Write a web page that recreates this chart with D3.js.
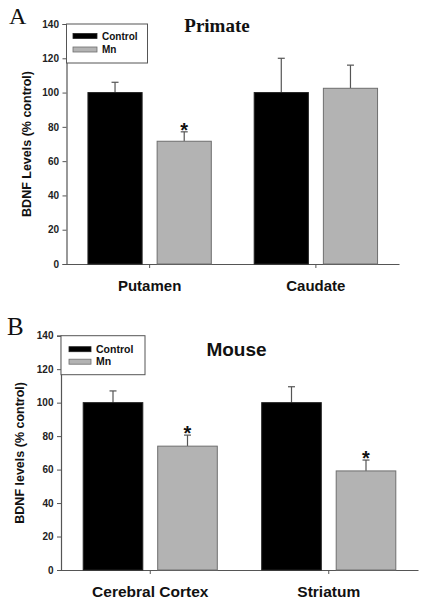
<!DOCTYPE html>
<html><head><meta charset="utf-8">
<script src="https://cdn.jsdelivr.net/npm/d3@7"></script>
<style>body{margin:0;background:#fff}svg{display:block}</style>
</head><body>
<svg id="c" width="425" height="600"></svg>
<script>
const seriesNames = ["Control", "Mn"];
const yTicks = [0, 20, 40, 60, 80, 100, 120, 140];

const primateCategories = ["Putamen", "Caudate"];
const primateControl = [100, 100];
const primateControlErr = [6, 20];
const primateMn = [71.6, 102.5];
const primateMnErr = [5.5, 13.5];
const primateSig = [false, true, false, false]; // per bar: [cat0 ctrl, cat0 Mn, cat1 ctrl, cat1 Mn]

const mouseCategories = ["Cerebral Cortex", "Striatum"];
const mouseControl = [100, 100];
const mouseControlErr = [7, 9.5];
const mouseMn = [74, 59.2];
const mouseMnErr = [6.6, 6.5];
const mouseSig = [false, true, false, true];

const colors = ["#000000", "#b3b3b3"];
const strokes = ["#222222", "#6e6e6e"];

const svg = d3.select("#c");

function drawPanel(o) {
  const g = svg.append("g");
  const y = d3.scaleLinear().domain([0, 140]).range([o.y0, o.y1]);
  const x = d3.scaleBand().domain(o.cats).range([o.x0, o.x1]).paddingInner(0).paddingOuter(0);
  const xs = d3.scaleBand().domain(seriesNames).range([0, x.bandwidth()]).paddingInner(o.inner).paddingOuter(o.outer);

  // y axis
  const ya = g.append("g").attr("transform", `translate(${o.x0},0)`)
    .call(d3.axisLeft(y).tickValues(yTicks).tickSize(4).tickPadding(3.5));
  ya.select(".domain").attr("stroke", "#555").attr("stroke-width", 1.2);
  ya.selectAll(".tick line").attr("stroke", "#555");
  ya.selectAll(".tick text").attr("font-family", "Arial, Liberation Sans, sans-serif")
    .attr("font-weight", "bold").attr("font-size", 10).attr("fill", "#222");

  // x axis
  const xa = g.append("g").attr("transform", `translate(0,${o.y0})`)
    .call(d3.axisBottom(x).tickSize(4).tickSizeOuter(0).tickPadding(o.xpad));
  xa.select(".domain").attr("stroke", "#555").attr("stroke-width", 1.2);
  xa.selectAll(".tick line").attr("stroke", "#555");
  xa.selectAll(".tick text").attr("font-family", "Arial, Liberation Sans, sans-serif")
    .attr("font-weight", "bold").attr("font-size", o.xsize).attr("fill", "#111").attr("dy", "0.9em");

  const rows = [];
  o.cats.forEach((c, i) => {
    rows.push({c, s: 0, v: o.ctrl[i], e: o.ctrlErr[i], sig: o.sig[i * 2]});
    rows.push({c, s: 1, v: o.mn[i], e: o.mnErr[i], sig: o.sig[i * 2 + 1]});
  });

  rows.forEach(d => {
    const cx = x(d.c) + xs(seriesNames[d.s]) + xs.bandwidth() / 2;
    g.append("line").attr("x1", cx).attr("x2", cx).attr("y1", y(d.v)).attr("y2", y(d.v + d.e))
      .attr("stroke", "#555").attr("stroke-width", 1.2);
    g.append("line").attr("x1", cx - 3.5).attr("x2", cx + 3.5).attr("y1", y(d.v + d.e)).attr("y2", y(d.v + d.e))
      .attr("stroke", "#555").attr("stroke-width", 1.2);
    if (d.sig) {
      g.append("text").attr("x", cx).attr("y", y(d.v + d.e) + 5).attr("text-anchor", "middle")
        .attr("font-family", "Arial, Liberation Sans, sans-serif").attr("font-weight", "bold")
        .attr("font-size", 20).attr("fill", "#111").text("*");
    }
  });

  g.selectAll("rect.bar").data(rows).join("rect").attr("class", "bar")
    .attr("x", d => x(d.c) + xs(seriesNames[d.s]))
    .attr("width", xs.bandwidth())
    .attr("y", d => y(d.v))
    .attr("height", d => y(0) - y(d.v))
    .attr("fill", d => colors[d.s])
    .attr("stroke", d => strokes[d.s]).attr("stroke-width", 1);

  // legend
  const lg = g.append("g");
  lg.append("rect").attr("x", o.lx).attr("y", o.ly).attr("width", o.lw).attr("height", o.lh)
    .attr("fill", "#fff").attr("stroke", "#555").attr("stroke-width", 1);
  seriesNames.forEach((s, i) => {
    const yy = o.ly + o.lfirst + i * o.lstep;
    lg.append("rect").attr("x", o.lx + o.sx).attr("y", yy).attr("width", o.sw).attr("height", 5)
      .attr("fill", colors[i]).attr("stroke", strokes[i]).attr("stroke-width", 0.8);
    lg.append("text").attr("x", o.lx + o.sx + o.sw + 5).attr("y", yy + 6)
      .attr("font-family", "Arial, Liberation Sans, sans-serif").attr("font-weight", "bold")
      .attr("font-size", o.lsize).attr("fill", "#111").text(s);
  });

  // titles
  g.append("text").attr("x", o.tx).attr("y", o.ty).attr("text-anchor", "middle")
    .attr("font-family", o.tfont).attr("font-weight", "bold").attr("font-size", o.tsize)
    .attr("fill", "#111").text(o.title);
  g.append("text").attr("x", o.letterX).attr("y", o.letterY)
    .attr("font-family", "Liberation Serif, Times New Roman, serif").attr("font-size", o.letterSize)
    .attr("fill", "#111").text(o.letter);
  g.append("text").attr("transform", `translate(${o.ylx},${(o.y0 + o.y1) / 2}) rotate(-90)`)
    .attr("text-anchor", "middle")
    .attr("font-family", "Arial, Liberation Sans, sans-serif").attr("font-weight", "bold")
    .attr("font-size", 12.5).attr("fill", "#111").text(o.ylabel);
}

drawPanel({
  cats: primateCategories, ctrl: primateControl, ctrlErr: primateControlErr,
  mn: primateMn, mnErr: primateMnErr, sig: primateSig,
  x0: 66.5, x1: 399, y0: 264, y1: 24, inner: 0.217, outer: 0.31, xpad: 9, xsize: 15,
  lx: 66.5, ly: 24, lw: 81, lh: 39, sx: 6.5, sw: 24, lfirst: 9.5, lstep: 13.5, lsize: 10,
  title: "Primate", tx: 217, ty: 32, tfont: "Liberation Serif, Times New Roman, serif", tsize: 19,
  letter: "A", letterX: 9, letterY: 24, letterSize: 24, ylabel: "BDNF Levels (% control)", ylx: 31
});

drawPanel({
  cats: mouseCategories, ctrl: mouseControl, ctrlErr: mouseControlErr,
  mn: mouseMn, mnErr: mouseMnErr, sig: mouseSig,
  x0: 61, x1: 418, y0: 570, y1: 335.7, inner: 0.2, outer: 0.298, xpad: 9, xsize: 15.5,
  lx: 61, ly: 335.7, lw: 84, lh: 39, sx: 8, sw: 22, lfirst: 11, lstep: 12.5, lsize: 10.5,
  title: "Mouse", tx: 236.5, ty: 356, tfont: "Arial, Liberation Sans, sans-serif", tsize: 19,
  letter: "B", letterX: 7, letterY: 335, letterSize: 25, ylabel: "BDNF levels (% control)", ylx: 24
});
</script>
</body></html>
